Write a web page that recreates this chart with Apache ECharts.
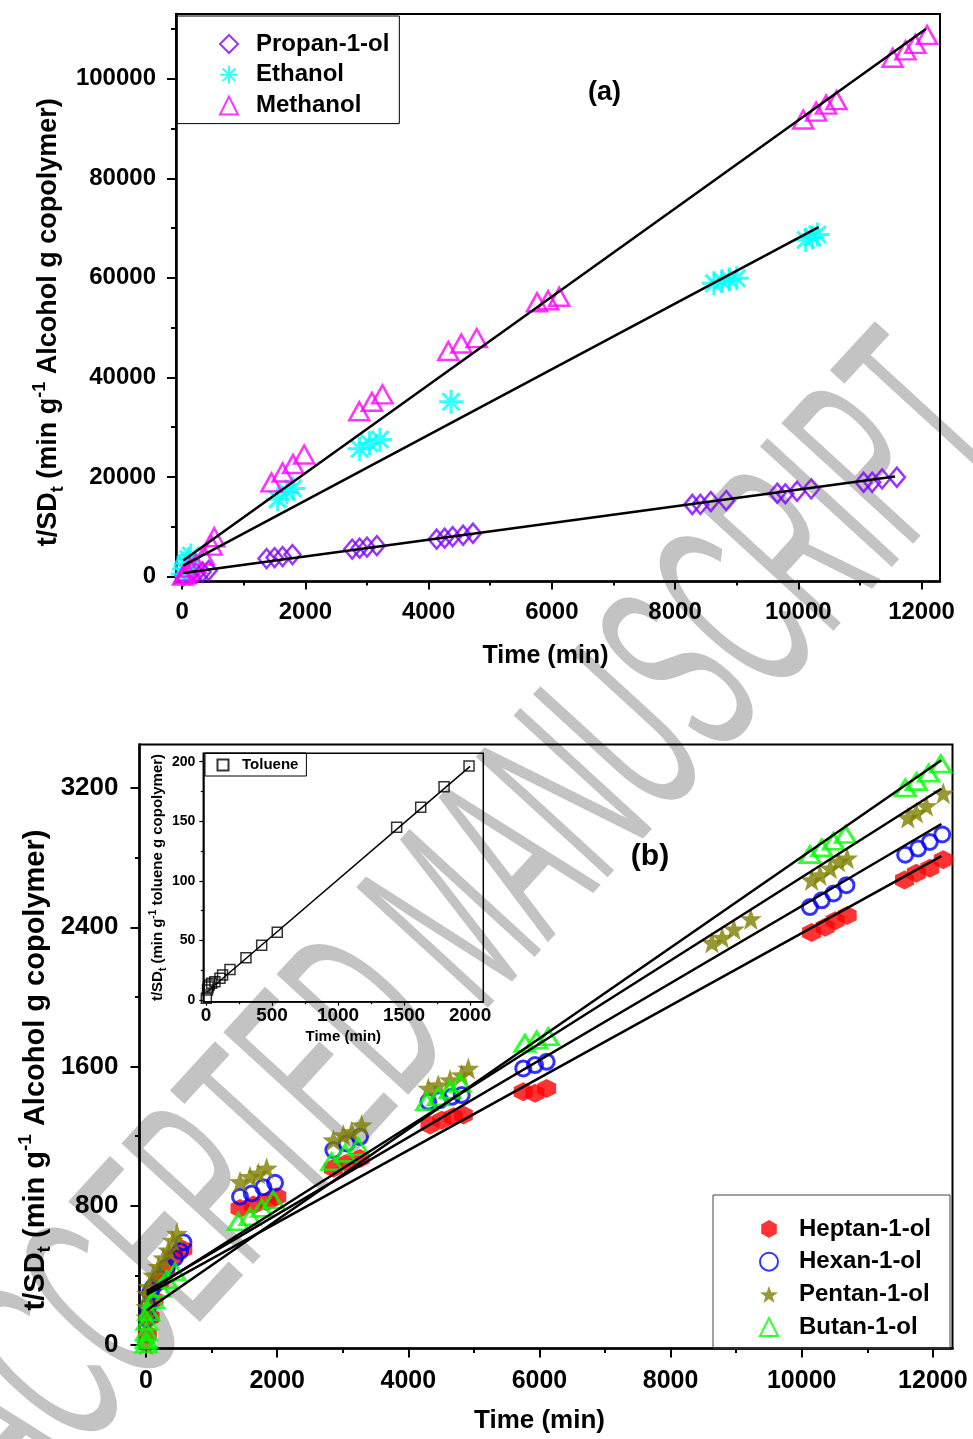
<!DOCTYPE html>
<html>
<head>
<meta charset="utf-8">
<title>t/SDt vs time</title>
<script src="https://cdn.jsdelivr.net/npm/echarts@6/dist/echarts.min.js"></script>
<style>
  html, body { margin: 0; padding: 0; background: #fff; }
  #chart { width: 973px; height: 1439px; }
</style>
</head>
<body>
<div id="chart"></div>
<script>
// ---------- panel (a): Time (min) / t/SDt ----------
const propanolTime = [20, 120, 230, 330, 430, 1370, 1500, 1630, 1790, 2760, 2880, 3000, 3160, 4130, 4260, 4390, 4560, 4720, 8280, 8410, 8580, 8830, 9660, 9790, 9980, 10210, 11060, 11200, 11360, 11600];
const propanolVal = [150, 400, 650, 900, 1200, 3600, 3800, 4000, 4400, 5500, 5700, 5900, 6200, 7500, 7700, 8000, 8300, 8700, 14460, 14500, 15060, 15260, 16730, 16610, 17130, 17610, 18940, 18940, 19620, 19940];
const ethanolTime = [10, 30, 60, 100, 140, 1550, 1700, 1800, 2880, 3040, 3210, 4365, 8630, 8760, 8880, 9000, 10120, 10230, 10310];
const ethanolVal = [500, 1500, 2500, 3500, 4200, 15500, 16950, 17700, 25650, 26750, 27500, 35100, 58900, 59300, 59650, 59900, 67600, 68100, 68700];
const methanolTime = [15, 40, 80, 130, 220, 350, 480, 520, 1450, 1630, 1800, 1980, 2875, 3080, 3250, 4320, 4530, 4780, 5760, 5940, 6120, 10080, 10290, 10450, 10620, 11530, 11740, 11900, 12090];
const methanolVal = [200, 500, 1000, 1800, 2600, 4200, 6200, 7900, 18900, 20900, 22600, 24500, 33200, 35100, 36600, 45300, 46800, 47900, 55100, 55500, 56200, 91800, 93400, 94800, 95700, 104200, 105700, 107000, 108800];

// fitted straight lines (end points)
const propanolFitTime = [18, 11570];
const propanolFitVal = [700, 20100];
const ethanolFitTime = [18, 10330];
const ethanolFitVal = [2200, 70200];
const methanolFitTime = [18, 12070];
const methanolFitVal = [3200, 110000];

// ---------- panel (b) ----------
const heptanTime = [20, 60, 120, 200, 300, 420, 560, 1433, 1636, 1840, 1993, 2857, 3061, 3263, 4331, 4509, 4686, 4838, 5753, 5932, 6110, 10151, 10357, 10511, 10693, 11568, 11748, 11954, 12159];
const heptanVal = [60, 160, 260, 360, 440, 510, 550, 785, 804, 823, 852, 1015, 1044, 1072, 1264, 1292, 1311, 1321, 1455, 1446, 1474, 2370, 2400, 2438, 2468, 2671, 2710, 2739, 2788];
const hexanTime = [10, 30, 60, 100, 200, 320, 440, 520, 570, 1433, 1612, 1789, 1967, 2857, 3061, 3263, 4305, 4483, 4661, 4814, 5753, 5932, 6110, 10125, 10305, 10485, 10682, 11578, 11775, 11954, 12144];
const hexanVal = [150, 220, 300, 330, 380, 450, 500, 540, 590, 852, 871, 906, 932, 1120, 1158, 1196, 1397, 1407, 1426, 1436, 1589, 1608, 1627, 2516, 2555, 2594, 2642, 2817, 2852, 2890, 2933];
const pentanTime = [2, 3, 5, 15, 40, 110, 190, 265, 340, 410, 470, 1433, 1586, 1713, 1840, 2857, 3009, 3136, 3289, 4305, 4457, 4636, 4814, 4915, 8631, 8787, 8966, 9224, 10151, 10279, 10435, 10563, 10693, 11619, 11748, 11901, 12159];
const pentanVal = [5, 160, 220, 295, 335, 400, 450, 500, 545, 600, 640, 938, 967, 986, 1015, 1177, 1206, 1225, 1264, 1474, 1493, 1522, 1551, 1589, 2312, 2341, 2389, 2448, 2671, 2700, 2739, 2778, 2797, 3030, 3059, 3098, 3170];
const butanTime = [1, 3, 5, 15, 40, 110, 215, 315, 440, 1407, 1586, 1764, 1941, 2832, 3034, 3237, 4280, 4457, 4636, 4788, 5779, 5958, 6135, 10125, 10305, 10485, 10667, 11580, 11750, 11935, 12120];
const butanVal = [5, 30, 75, 135, 190, 260, 325, 375, 420, 708, 737, 785, 833, 1053, 1101, 1139, 1397, 1426, 1465, 1503, 1733, 1752, 1771, 2817, 2856, 2894, 2933, 3200, 3237, 3285, 3338];

const heptanFitTime = [10, 12130];
const heptanFitVal = [290, 2809];
const hexanFitTime = [10, 12130];
const hexanFitVal = [310, 2993];
const pentanFitTime = [10, 12130];
const pentanFitVal = [300, 3196];
const butanFitTime = [10, 12130];
const butanFitVal = [200, 3360];

// ---------- inset: toluene ----------
const tolueneTime = [3, 12, 17, 25, 43, 68, 106, 126, 182, 303, 422, 540, 1444, 1626, 1803, 1992];
const tolueneVal = [1.4, 8.4, 11, 12.6, 14, 15.4, 18.2, 21, 25.7, 35.5, 46, 56.8, 145, 161.7, 179, 196.4];
const tolueneFitTime = [5, 2000];
const tolueneFitVal = [6.5, 196];

// ---------- ticks ----------
const timeTicks = [0, 2000, 4000, 6000, 8000, 10000, 12000];
const timeMinor = [1000, 3000, 5000, 7000, 9000, 11000];
const aTicks = [0, 20000, 40000, 60000, 80000, 100000];
const aMinor = [10000, 30000, 50000, 70000, 90000, 110000];
const bTicks = [0, 800, 1600, 2400, 3200];
const bMinor = [400, 1200, 2000, 2800];
const insetTimeTicks = [0, 500, 1000, 1500, 2000];
const insetTimeMinor = [250, 750, 1250, 1750];
const insetTicks = [0, 50, 100, 150, 200];
const insetMinor = [25, 75, 125, 175];

const FONT = '"Liberation Sans", Arial, Helvetica, sans-serif';
const NARROW = '"Liberation Sans Narrow", "Arial Narrow", "Liberation Sans", Arial, sans-serif';

const HEXAGON = 'path://M0,-10L8.66,-5L8.66,5L0,10L-8.66,5L-8.66,-5Z';
const STAR = 'path://M0,-10L2.35,-3.24L9.51,-3.09L3.8,1.24L5.88,8.09L0,4L-5.88,8.09L-3.8,1.24L-9.51,-3.09L-2.35,-3.24Z';
const ASTERISK = 'path://M0,-10L0,10M-10,0L10,0M-7.07,-7.07L7.07,7.07M-7.07,7.07L7.07,-7.07';

const pairs = (xs, ys) => xs.map((x, i) => [x, ys[i]]);
const plain = (v) => String(v);

function hollow(color, width) {
  return { color: 'rgba(0,0,0,0)', borderColor: color, borderWidth: width };
}

function scatter(name, xs, ys, axis, symbol, size, itemStyle) {
  return {
    name, type: 'scatter', xAxisIndex: axis, yAxisIndex: axis,
    data: pairs(xs, ys), symbol, symbolSize: size, itemStyle, z: 2, silent: true
  };
}

function fitLine(name, xs, ys, axis, width) {
  return {
    name, type: 'line', xAxisIndex: axis, yAxisIndex: axis,
    data: pairs(xs, ys), symbol: 'none', showSymbol: false,
    lineStyle: { color: '#000', width }, z: 5, silent: true
  };
}

// axis with labels + major ticks
function axis(grid, pos, min, max, ticks, o) {
  return {
    type: 'value', gridIndex: grid, position: pos, min, max,
    axisLine: { show: true, onZero: false, lineStyle: { color: '#000', width: o.line } },
    axisTick: { show: true, customValues: ticks, length: o.tick, lineStyle: { color: '#000', width: o.tickWidth || 2 } },
    axisLabel: {
      customValues: ticks, formatter: plain, margin: o.margin, color: '#000',
      fontFamily: o.family || FONT, fontWeight: 'bold', fontSize: o.size
    },
    splitLine: { show: false },
    name: o.name, nameLocation: 'middle', nameGap: o.nameGap, nameMoveOverlap: false,
    nameTextStyle: o.nameStyle
  };
}

// second axis on the same side, used only for minor ticks
function minorAxis(grid, pos, min, max, ticks, len, width) {
  return {
    type: 'value', gridIndex: grid, position: pos, min, max,
    axisLine: { show: false, onZero: false },
    axisLabel: { show: false },
    axisTick: { show: true, customValues: ticks, length: len, lineStyle: { color: '#000', width } },
    splitLine: { show: false }
  };
}

function titleStyle(size, subSize, lineHeight, padding) {
  const base = { fontFamily: FONT, fontWeight: 'bold', color: '#000' };
  return {
    fontFamily: FONT, fontWeight: 'bold', color: '#000', fontSize: size, lineHeight, padding,
    rich: {
      n: Object.assign({ fontSize: size }, base),
      sub: Object.assign({ fontSize: subSize, verticalAlign: 'bottom' }, base),
      sup: Object.assign({ fontSize: subSize, verticalAlign: 'top' }, base)
    }
  };
}

const alcoholTitle = '{n|t/SD}{sub|t}{n| (min g}{sup|-1}{n| Alcohol g copolymer)}';
const tolueneTitle = '{n|t/SD}{sub|t}{n| (min g}{sup|-1}{n| toluene g copolymer)}';

const legendText = (size, padLeft) => ({
  fontFamily: FONT, fontWeight: 'bold', fontSize: size, color: '#000', padding: [0, 0, 0, padLeft]
});

const option = {
  animation: false,
  textStyle: { fontFamily: FONT },
  grid: [
    { left: 176, top: 14, width: 764, height: 567.5, show: true, borderColor: '#000', borderWidth: 2, containLabel: false, outerBoundsMode: 'none' },
    { left: 139.5, top: 744.5, width: 813, height: 604, show: true, borderColor: '#000', borderWidth: 2, containLabel: false, outerBoundsMode: 'none' },
    { left: 203.3, top: 753.3, width: 280, height: 248.4, show: true, borderColor: '#000', borderWidth: 1.5, containLabel: false, outerBoundsMode: 'none' }
  ],
  xAxis: [
    axis(0, 'bottom', -100, 12300, timeTicks, {
      line: 2.5, tick: 8, margin: 19, size: 24,
      name: 'Time (min)', nameGap: 62,
      nameStyle: { fontFamily: FONT, fontWeight: 'bold', fontSize: 25, color: '#000', padding: [0, 25, 0, 0] }
    }),
    minorAxis(0, 'bottom', -100, 12300, timeMinor, 4, 2),
    axis(1, 'bottom', -100, 12300, timeTicks, {
      line: 2.5, tick: 9, margin: 20, size: 25,
      name: 'Time (min)', nameGap: 59,
      nameStyle: { fontFamily: FONT, fontWeight: 'bold', fontSize: 26, color: '#000', padding: [0, 13, 0, 0] }
    }),
    minorAxis(1, 'bottom', -100, 12300, timeMinor, 4.5, 2),
    axis(2, 'bottom', -20, 2100, insetTimeTicks, {
      line: 1.5, tick: 4, tickWidth: 1.2, margin: 5, size: 19, family: NARROW,
      name: 'Time (min)', nameGap: 28,
      nameStyle: { fontFamily: NARROW, fontWeight: 'bold', fontSize: 15, color: '#000' }
    }),
    minorAxis(2, 'bottom', -20, 2100, insetTimeMinor, 2.5, 1.2)
  ],
  yAxis: [
    axis(0, 'left', -1000, 113000, aTicks, {
      line: 2.5, tick: 9, margin: 20, size: 24,
      name: alcoholTitle, nameGap: 109,
      nameStyle: titleStyle(27, 18, 36, [0, 49, 0, 0])
    }),
    minorAxis(0, 'left', -1000, 113000, aMinor, 5, 2),
    axis(1, 'left', -20, 3450, bTicks, {
      line: 2.5, tick: 9, margin: 21, size: 26,
      name: alcoholTitle, nameGap: 85,
      nameStyle: titleStyle(29, 19, 38, [0, 47, 0, 0])
    }),
    minorAxis(1, 'left', -20, 3450, bMinor, 4.5, 2),
    axis(2, 'left', -1.4, 207, insetTicks, {
      line: 1.5, tick: 4, tickWidth: 1.2, margin: 8, size: 14,
      name: tolueneTitle, nameGap: 35,
      nameStyle: titleStyle(15, 10, 20, [0, 0, 0, 0])
    }),
    minorAxis(2, 'left', -1.4, 207, insetMinor, 2.5, 1.2)
  ],
  legend: [
    {
      data: ['Propan-1-ol', 'Ethanol', 'Methanol'], orient: 'vertical', left: 177, top: 16,
      padding: [16, 10, 6, 42], itemWidth: 18, itemHeight: 18, itemGap: 6.8, selectedMode: false,
      borderColor: '#000', borderWidth: 1, textStyle: legendText(24, 13)
    },
    {
      data: ['Heptan-1-ol', 'Hexan-1-ol', 'Pentan-1-ol', 'Butan-1-ol'], orient: 'vertical', left: 713, top: 1195,
      padding: [22, 19, 9, 46], itemWidth: 18, itemHeight: 18, itemGap: 8.7, selectedMode: false,
      borderColor: '#444', borderWidth: 1, textStyle: legendText(24, 16)
    },
    {
      data: ['Toluene'], orient: 'vertical', left: 205, top: 753,
      padding: [4.5, 8, 3.5, 11.5], itemWidth: 11, itemHeight: 11, selectedMode: false,
      borderColor: '#000', borderWidth: 1, textStyle: legendText(15, 8.5)
    }
  ],
  graphic: [
    {
      type: 'text', z: -10, silent: true, x: 464, y: 928, rotation: 47.5 * Math.PI / 180, scaleY: 2.2,
      style: {
        text: 'ACCEPTED MANUSCRIPT', fontSize: 118, fontFamily: FONT, fontWeight: 'normal',
        fill: '#c3c3c3', align: 'center', verticalAlign: 'middle'
      }
    },
    {
      type: 'text', x: 604.5, y: 93, z: 10,
      style: { text: '(a)', fontSize: 27, fontFamily: FONT, fontWeight: 'bold', fill: '#000', align: 'center', verticalAlign: 'middle' }
    },
    {
      type: 'text', x: 650, y: 857, z: 10,
      style: { text: '(b)', fontSize: 30, fontFamily: FONT, fontWeight: 'bold', fill: '#000', align: 'center', verticalAlign: 'middle' }
    }
  ],
  series: [
    scatter('Propan-1-ol', propanolTime, propanolVal, 0, 'diamond', [16, 19], hollow('#8000ff', 2.5)),
    scatter('Ethanol', ethanolTime, ethanolVal, 0, ASTERISK, 24, hollow('#00ffff', 3)),
    scatter('Methanol', methanolTime, methanolVal, 0, 'triangle', [20, 18], hollow('#ff00ff', 2.5)),
    fitLine('fit propanol', propanolFitTime, propanolFitVal, 0, 2.5),
    fitLine('fit ethanol', ethanolFitTime, ethanolFitVal, 0, 2.5),
    fitLine('fit methanol', methanolFitTime, methanolFitVal, 0, 2.5),

    scatter('Heptan-1-ol', heptanTime, heptanVal, 2, HEXAGON, [19, 19], { color: '#ff0000', borderColor: '#ff0000', borderWidth: 0 }),
    scatter('Hexan-1-ol', hexanTime, hexanVal, 2, 'circle', 15, hollow('#0000ff', 3)),
    scatter('Pentan-1-ol', pentanTime, pentanVal, 2, STAR, 22, { color: '#808000', borderColor: '#808000', borderWidth: 0 }),
    scatter('Butan-1-ol', butanTime, butanVal, 2, 'triangle', [20, 16], hollow('#00ff00', 3)),
    fitLine('fit heptanol', heptanFitTime, heptanFitVal, 2, 2.5),
    fitLine('fit hexanol', hexanFitTime, hexanFitVal, 2, 2.5),
    fitLine('fit pentanol', pentanFitTime, pentanFitVal, 2, 2.5),
    fitLine('fit butanol', butanFitTime, butanFitVal, 2, 2.5),

    scatter('Toluene', tolueneTime, tolueneVal, 4, 'rect', 10, hollow('#000', 1.5)),
    fitLine('fit toluene', tolueneFitTime, tolueneFitVal, 4, 1.5)
  ]
};

const myChart = echarts.init(document.getElementById('chart'), null, { renderer: 'canvas' });
myChart.setOption(option);
</script>
</body>
</html>
